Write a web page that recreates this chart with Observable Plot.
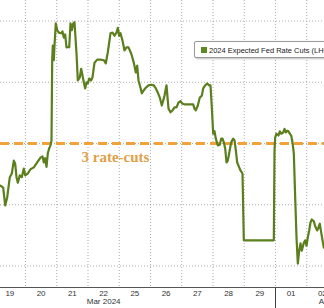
<!DOCTYPE html>
<html>
<head>
<meta charset="utf-8">
<script src="https://cdn.jsdelivr.net/npm/d3@7"></script>
<script src="https://cdn.jsdelivr.net/npm/@observablehq/plot@0.6"></script>
<style>
  html, body { margin: 0; padding: 0; background: #fff; overflow: hidden; }
  #wrap { position: relative; width: 324px; height: 308px; overflow: hidden; }
  #legend {
    position: absolute; left: 194px; top: 41px; height: 17px; width: 150px;
    border: 1px solid #9a9a9a; border-radius: 2px; background: #fff;
    box-shadow: 1px 1px 2px rgba(0,0,0,0.25);
    font: 7.5px "Liberation Sans", Arial, sans-serif; color: #222;
    white-space: nowrap; box-sizing: border-box;
  }
  #legend .sw { position: absolute; left: 6px; top: 5px; width: 6px; height: 6px; background: #5b8a1e; }
  #legend .tx { position: absolute; left: 14px; top: 3.5px; }
</style>
</head>
<body>
<div id="wrap"></div>
<script>
// Trading-day position (0 = Mar 19 start, each unit = one trading day)
const dayPos = [
  0.200,0.286,0.350,0.414,0.498,0.562,0.626,0.670,0.712,0.754,0.818,0.882,0.946,0.990,
  1.074,1.160,1.266,1.374,1.480,1.544,1.586,1.630,1.672,1.714,1.758,1.800,1.832,1.854,1.874,1.906,1.928,1.970,
  2.014,2.066,2.142,2.184,2.226,2.270,2.312,2.376,2.398,2.440,2.482,2.526,2.568,2.632,2.674,2.738,2.782,2.824,2.866,2.910,2.952,2.994,
  3.038,3.102,3.144,3.208,3.294,3.400,3.506,3.570,3.634,3.720,3.784,3.848,3.912,3.954,3.998,
  4.040,4.104,4.168,4.232,4.296,4.382,4.466,4.530,4.574,4.616,4.680,4.722,4.786,4.850,4.936,
  5.022,5.106,5.170,5.234,5.298,5.362,5.406,5.448,5.512,5.534,5.576,5.640,5.704,5.768,5.832,5.896,5.960,
  6.024,6.088,6.194,6.302,6.366,6.408,6.450,6.514,6.578,6.642,6.686,6.750,6.814,6.878,6.920,6.962,
  7.006,7.048,7.090,7.154,7.218,7.262,7.304,7.346,7.390,7.432,7.474,7.518,7.582,7.646,7.688,7.730,7.774,7.838,7.880,7.944,7.986,
  8.946,8.968,8.990,
  9.032,9.096,9.138,9.182,9.246,9.288,9.330,9.374,9.416,9.458,9.502,9.544,9.586,9.630,9.672,9.714,9.758,9.800,9.842,9.906,9.950,9.992,
  10.034,10.078,10.120,10.162,10.226,10.270,10.334,10.376,10.418,10.462,10.504,10.546
];
// 2024 expected Fed rate cuts (number of 25bp cuts)
const expectedCuts = [
  2.931,2.928,2.899,2.912,2.945,2.951,2.972,2.967,2.945,2.936,2.948,2.945,2.959,2.948,
  2.951,2.958,2.961,2.969,2.977,2.979,2.969,2.976,2.962,2.984,2.992,2.997,3.005,3.136,3.160,3.136,3.160,3.196,
  3.185,3.181,3.180,3.183,3.173,3.178,3.157,3.158,3.157,3.196,3.185,3.196,3.198,3.147,3.103,3.108,3.122,3.111,3.100,3.090,3.100,3.098,
  3.106,3.103,3.108,3.132,3.137,3.137,3.136,3.131,3.149,3.180,3.181,3.176,3.181,3.189,3.176,
  3.180,3.168,3.152,3.157,3.157,3.147,3.132,3.116,3.127,3.103,3.091,3.082,3.087,3.091,3.095,
  3.096,3.095,3.090,3.083,3.075,3.062,3.070,3.078,3.095,3.082,3.057,3.051,3.054,3.059,3.059,3.067,3.069,
  3.065,3.064,3.064,3.064,3.064,3.057,3.054,3.062,3.075,3.078,3.090,3.095,3.098,3.095,3.095,3.059,
  3.016,3.020,3.008,2.997,2.998,3.008,3.008,3.002,2.992,2.969,2.972,2.984,3.002,3.008,3.005,2.989,2.969,2.961,2.956,2.951,2.842,
  2.842,2.989,3.010,
  3.016,3.013,3.020,3.016,3.018,3.024,3.018,3.021,3.020,3.016,3.013,3.002,2.984,2.912,2.847,2.804,2.825,2.837,2.825,2.838,2.842,2.833,
  2.847,2.858,2.871,2.876,2.873,2.865,2.858,2.863,2.869,2.855,2.842,2.830
];
const dayLabels = ["19","20","21","22","25","26","27","28","29","01","02"];
const dayCenters = [0.5,1.5,2.5,3.5,4.5,5.5,6.5,7.5,8.5,9.5,10.5];
const dayBounds = [1,2,3,4,5,6,7,8,9,10];
const monthLabels = ["Mar 2024","Apr 2024"];
const monthPos = [3.5, 10.9];
const monthBreak = [9];
const yGrid = [2.8, 2.9, 3.0, 3.1, 3.2];
const threshold = [3.0];
const thresholdLabel = "3 rate-cuts";
const thresholdLabelPos = [3.88, 2.977];
const seriesName = "2024 Expected Fed Rate Cuts (LHS)";
const xDomain = [0.2, 10.568];
const yDomain = [2.7649, 3.2335];

const data = dayPos.map((x, i) => ({x, y: expectedCuts[i]}));
const dayMap = new Map(dayCenters.map((c, i) => [c, dayLabels[i]]));
const monMap = new Map(monthPos.map((c, i) => [c, monthLabels[i]]));
const yBelow = yDomain[0] - (yDomain[1] - yDomain[0]) * 0.08;

const chart = Plot.plot({
  width: 324,
  height: 308,
  marginTop: 0,
  marginRight: 0,
  marginBottom: 21,
  marginLeft: 0,
  style: {fontFamily: "'Liberation Sans', Arial, sans-serif", fontSize: "8px", color: "#333", background: "#fff"},
  x: {domain: xDomain, axis: null, label: null},
  y: {domain: yDomain, axis: null, label: null},
  marks: [
    Plot.gridX(dayBounds, {stroke: "#999", strokeOpacity: 0.8, strokeDasharray: "1,2"}),
    Plot.gridY(yGrid, {stroke: "#999", strokeOpacity: 0.8, strokeDasharray: "1,2"}),
    Plot.ruleY(threshold, {stroke: "#f2a238", strokeWidth: 3, strokeDasharray: "9,5"}),
    Plot.text([thresholdLabel], {x: [thresholdLabelPos[0]], y: [thresholdLabelPos[1]], text: d => d, fill: "#dfa04a",
      fontFamily: "'Liberation Serif', 'DejaVu Serif', serif", fontWeight: "bold", fontSize: 15, textAnchor: "middle"}),
    Plot.line(data, {x: "x", y: "y", stroke: "#5a7f1c", strokeWidth: 2.2, curve: "linear"}),
    Plot.ruleY([yDomain[0]], {stroke: "#555", strokeWidth: 1}),
    Plot.ruleX(monthBreak, {y1: yDomain[0], y2: yBelow, stroke: "#444", strokeWidth: 1, clip: false}),
    Plot.axisX(dayCenters, {tickSize: 0, tickPadding: 3, label: null, tickFormat: d => dayMap.get(d), fill: "#333", fontSize: 8}),
    Plot.axisX(monthPos, {tickSize: 0, tickPadding: 11, label: null, tickFormat: d => monMap.get(d), fill: "#333", fontSize: 8})
  ]
});

const wrap = document.getElementById("wrap");
wrap.appendChild(chart);
const lg = document.createElement("div");
lg.id = "legend";
lg.innerHTML = '<span class="sw"></span><span class="tx"></span>';
lg.querySelector(".tx").textContent = seriesName;
wrap.appendChild(lg);
</script>
</body>
</html>
